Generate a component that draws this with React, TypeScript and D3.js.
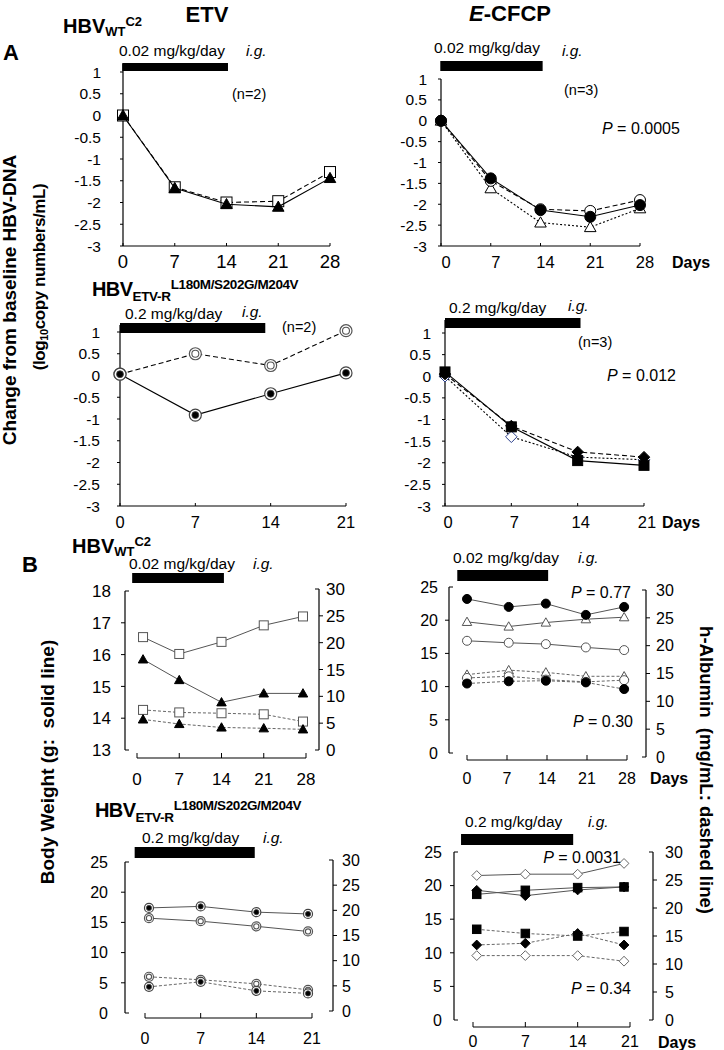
import React from 'react';
import * as d3 from 'd3';

// ---------------- DATA ----------------
const xTicks28 = [0, 7, 14, 21, 28];
const xTicks21 = [0, 7, 14, 21];
const yTicksA = [1, 0.5, 0, -0.5, -1, -1.5, -2, -2.5, -3];
const yTicksBW1 = [13, 14, 15, 16, 17, 18];
const yTicksBW = [0, 5, 10, 15, 20, 25];
const yTicksAlb = [0, 5, 10, 15, 20, 25, 30];

// Panel A, HBV WT C2
const daysAwt = [0, 7, 14, 21, 28];
const etvWtSquare = [0, -1.65, -2.0, -1.97, -1.3];
const etvWtTriangle = [0, -1.67, -2.04, -2.1, -1.44];
const cfcpWtFilledCircle = [0, -1.38, -2.14, -2.3, -2.02];
const cfcpWtOpenCircle = [0, -1.44, -2.12, -2.16, -1.9];
const cfcpWtOpenTriangle = [0, -1.62, -2.44, -2.55, -2.1];

// Panel A, HBV ETV-R
const daysAr = [0, 7, 14, 21];
const etvRFilled = [0.03, -0.91, -0.42, 0.06];
const etvROpen = [0.03, 0.5, 0.23, 1.03];
const cfcpRSquare = [0.1, -1.17, -1.95, -2.06];
const cfcpRFilledDiamond = [0.05, -1.15, -1.75, -1.87];
const cfcpROpenDiamond = [0, -1.4, -1.87, -1.93];

// Panel B, HBV WT C2 (body weight g / h-albumin mg/mL)
const daysBwtEtv = [1, 7, 14, 21, 27.5];
const bwEtvWtSquare = [16.55, 16.02, 16.4, 16.92, 17.2];
const bwEtvWtTriangle = [15.85, 15.2, 14.5, 14.78, 14.78];
const albEtvWtSquare = [7.47, 7.0, 6.85, 6.65, 5.3];
const albEtvWtTriangle = [5.7, 4.85, 4.2, 4.05, 3.85];

const daysBwtCfcp = [0, 7.3, 13.8, 20.8, 27.5];
const bwCfcpWtFilledCircle = [23.2, 22.0, 22.5, 20.8, 22.0];
const bwCfcpWtOpenTriangle = [19.75, 19.05, 19.65, 20.15, 20.45];
const bwCfcpWtOpenCircle = [16.9, 16.6, 16.4, 15.9, 15.5];
const albCfcpWtOpenTriangle = [14.8, 15.6, 15.2, 14.5, 14.5];
const albCfcpWtOpenCircle = [14.2, 14.5, 13.9, 13.5, 13.8];
const albCfcpWtFilledCircle = [13.2, 13.6, 13.7, 13.4, 12.2];

// Panel B, HBV ETV-R
const daysBrEtv = [0.5, 7, 14, 20.5];
const bwEtvRFilled = [17.4, 17.65, 16.7, 16.4];
const bwEtvROpen = [15.7, 15.2, 14.35, 13.5];
const albEtvROpen = [6.8, 6.2, 5.4, 4.2];
const albEtvRFilled = [4.8, 5.8, 4.0, 3.5];

const daysBrCfcp = [0.5, 7, 14, 20.2];
const bwCfcpROpenDiamond = [21.5, 21.7, 21.7, 23.3];
const bwCfcpRSquare = [18.7, 19.3, 19.7, 19.8];
const bwCfcpRFilledDiamond = [19.3, 18.5, 19.35, 19.8];
const albCfcpRSquare = [16.2, 15.45, 15.0, 15.8];
const albCfcpRFilledDiamond = [13.4, 13.7, 15.45, 13.4];
const albCfcpROpenDiamond = [11.5, 11.5, 11.5, 10.5];

// treatment periods (days)
const treatA1 = [-0.1, 14.2];
const treatA2 = [-0.1, 14.3];
const treatA3 = [0, 13.5];
const treatA4 = [0, 14.3];
const treatB1 = [-0.8, 14.4];
const treatB2 = [-1.7, 14.2];
const treatB3 = [-1.3, 13.8];
const treatB4 = [-1.6, 13.4];

// ---------------- DRAWING ----------------
const FONT = "'Liberation Sans', Arial, Helvetica, sans-serif";

type Series = {
  days: number[];
  values: number[];
  marker: string;
  line: 'solid' | 'dashed' | 'dotted' | 'bsolid' | 'bdash';
  axis?: 'left' | 'right';
  color?: string;
};

function Marker({ k, x, y, s, c = '#000' }: { k: string; x: number; y: number; s: number; c?: string }) {
  const h = s / 2;
  switch (k) {
    case 'sqO':
      return <rect x={x - h} y={y - h} width={s} height={s} fill="#fff" stroke={c} strokeWidth={1} />;
    case 'sqF':
      return <rect x={x - h} y={y - h} width={s} height={s} fill={c} stroke={c} strokeWidth={1} />;
    case 'triF':
    case 'triO': {
      const d = `M${x},${y - h * 1.05}L${x + h * 1.05},${y + h * 0.8}L${x - h * 1.05},${y + h * 0.8}Z`;
      return <path d={d} fill={k === 'triF' ? c : '#fff'} stroke={c} strokeWidth={1} />;
    }
    case 'cirF':
      return <circle cx={x} cy={y} r={h} fill={c} stroke={c} strokeWidth={1} />;
    case 'cirO':
      return <circle cx={x} cy={y} r={h} fill="#fff" stroke={c} strokeWidth={1} />;
    case 'dcF':
      return (
        <g>
          <circle cx={x} cy={y} r={h} fill="#fff" stroke="#444" strokeWidth={1.2} />
          <circle cx={x} cy={y} r={h * 0.58} fill="#000" stroke="#444" strokeWidth={0.8} />
        </g>
      );
    case 'dcO':
      return (
        <g>
          <circle cx={x} cy={y} r={h} fill="#fff" stroke="#555" strokeWidth={1.2} />
          <circle cx={x} cy={y} r={h * 0.58} fill="#fff" stroke="#555" strokeWidth={1.1} />
        </g>
      );
    case 'diaF':
    case 'diaO': {
      const r = h * 1.15;
      const d = `M${x},${y - r}L${x + r},${y}L${x},${y + r}L${x - r},${y}Z`;
      return <path d={d} fill={k === 'diaF' ? c : '#fff'} stroke={c} strokeWidth={1} />;
    }
    default:
      return null;
  }
}

const lineStyle: Record<string, { stroke: string; dash?: string; w: number }> = {
  solid: { stroke: '#000', w: 1.1 },
  dashed: { stroke: '#000', dash: '5,3', w: 1.1 },
  dotted: { stroke: '#000', dash: '2,2', w: 1.1 },
  bsolid: { stroke: '#555', w: 1 },
  bdash: { stroke: '#666', dash: '3,2', w: 1 },
};

function SeriesView({ s, x, y, size }: { s: Series; x: any; y: any; size: number }) {
  const pts: [number, number][] = s.days.map((d, i) => [x(d), y(s.values[i])]);
  const st = lineStyle[s.line];
  const path = d3.line()(pts) || '';
  return (
    <g>
      <path d={path} fill="none" stroke={st.stroke} strokeWidth={st.w} strokeDasharray={st.dash} />
      {pts.map((p, i) => (
        <Marker key={i} k={s.marker} x={p[0]} y={p[1]} s={size} c={s.color || '#000'} />
      ))}
    </g>
  );
}

type PanelACfg = {
  x: any;
  y: any;
  xTicks: number[];
  axisTop: number;
  yLabelX: number;
  xLabelY: number;
  xLabelSize: number;
  xLabelDx: number;
  bar: number[];
  barY: number;
  barH: number;
  series: Series[];
  size: number;
};

function PanelA({ p }: { p: PanelACfg }) {
  const { x, y, xTicks } = p;
  const yb = y(-3);
  const x0 = x(0);
  return (
    <g>
      <line x1={x0} x2={x0} y1={p.axisTop} y2={yb} stroke="#000" strokeWidth={1.2} />
      <line x1={x0} x2={x(xTicks[xTicks.length - 1])} y1={yb} y2={yb} stroke="#000" strokeWidth={1.2} />
      {yTicksA.map((t) => (
        <g key={t}>
          <line x1={x0 - 3} x2={x0} y1={y(t)} y2={y(t)} stroke="#000" strokeWidth={1} />
          <text x={p.yLabelX} y={y(t) + 5.5} textAnchor="end" fontSize={15.5}>
            {String(t)}
          </text>
        </g>
      ))}
      {xTicks.map((t) => (
        <g key={t}>
          <line x1={x(t)} x2={x(t)} y1={yb} y2={yb - 3} stroke="#000" strokeWidth={1} />
          <text x={x(t) + p.xLabelDx} y={p.xLabelY} textAnchor="middle" fontSize={p.xLabelSize}>
            {t}
          </text>
        </g>
      ))}
      {p.series.map((s, i) => (
        <SeriesView key={i} s={s} x={x} y={y} size={p.size} />
      ))}
      <rect x={x(p.bar[0])} y={p.barY} width={x(p.bar[1]) - x(p.bar[0])} height={p.barH} fill="#000" />
    </g>
  );
}

type PanelBCfg = {
  x: any;
  yL: any;
  yR: any;
  lx: number;
  rx: number;
  xAxisY: number;
  lTicks: number[];
  lLabelX: number;
  rLabelX: number;
  xLabelY: number;
  fs: number;
  xTicks: number[];
  bar: number[];
  barY: number;
  barH: number;
  series: Series[];
  size: number;
};

function PanelB({ p }: { p: PanelBCfg }) {
  const { x, yL, yR, lx, rx, lTicks, xTicks } = p;
  const lN = lTicks.length;
  const rN = yTicksAlb.length;
  return (
    <g>
      <line x1={lx} x2={lx} y1={yL(lTicks[lN - 1])} y2={yL(lTicks[0])} stroke="#000" strokeWidth={1.2} />
      {lTicks.map((t, i) => {
        const end = i === 0 || i === lN - 1;
        return (
          <g key={t}>
            <line x1={end ? lx : lx - 4} x2={end ? lx + 4 : lx} y1={yL(t)} y2={yL(t)} stroke="#000" strokeWidth={1} />
            <text x={p.lLabelX} y={yL(t) + p.fs * 0.36} textAnchor="end" fontSize={p.fs}>
              {t}
            </text>
          </g>
        );
      })}
      <line x1={rx} x2={rx} y1={yR(30)} y2={yR(0)} stroke="#000" strokeWidth={1.2} />
      {yTicksAlb.map((t, i) => {
        const end = i === 0 || i === rN - 1;
        return (
          <g key={t}>
            <line x1={end ? rx - 4 : rx} x2={end ? rx : rx + 4} y1={yR(t)} y2={yR(t)} stroke="#000" strokeWidth={1} />
            <text x={p.rLabelX} y={yR(t) + p.fs * 0.36} textAnchor="start" fontSize={p.fs}>
              {t}
            </text>
          </g>
        );
      })}
      <line x1={x(xTicks[0])} x2={x(xTicks[xTicks.length - 1])} y1={p.xAxisY} y2={p.xAxisY} stroke="#000" strokeWidth={1.2} />
      {xTicks.map((t) => (
        <g key={t}>
          <line x1={x(t)} x2={x(t)} y1={p.xAxisY - 5} y2={p.xAxisY} stroke="#000" strokeWidth={1} />
          <text x={x(t)} y={p.xLabelY} textAnchor="middle" fontSize={p.fs}>
            {t}
          </text>
        </g>
      ))}
      {p.series.map((s, i) => (
        <SeriesView key={i} s={s} x={x} y={s.axis === 'right' ? yR : yL} size={p.size} />
      ))}
      <rect x={x(p.bar[0])} y={p.barY} width={x(p.bar[1]) - x(p.bar[0])} height={p.barH} fill="#000" />
    </g>
  );
}

// ---------------- PANELS ----------------
const A1: PanelACfg = {
  x: d3.scaleLinear().domain([0, 28]).range([123, 330]),
  y: d3.scaleLinear().domain([-3, 1]).range([246, 72]),
  xTicks: xTicks28, axisTop: 64, yLabelX: 101, xLabelY: 268, xLabelSize: 18.5, xLabelDx: 0,
  bar: treatA1, barY: 63, barH: 8, size: 11,
  series: [
    { days: daysAwt, values: etvWtSquare, marker: 'sqO', line: 'dashed' },
    { days: daysAwt, values: etvWtTriangle, marker: 'triF', line: 'solid' },
  ],
};

const A2: PanelACfg = {
  x: d3.scaleLinear().domain([0, 28]).range([441, 640]),
  y: d3.scaleLinear().domain([-3, 1]).range([246, 79]),
  xTicks: xTicks28, axisTop: 79, yLabelX: 427, xLabelY: 268, xLabelSize: 16.5, xLabelDx: 5,
  bar: treatA2, barY: 61, barH: 10, size: 11,
  series: [
    { days: daysAwt, values: cfcpWtOpenTriangle, marker: 'triO', line: 'dotted' },
    { days: daysAwt, values: cfcpWtOpenCircle, marker: 'cirO', line: 'dashed' },
    { days: daysAwt, values: cfcpWtFilledCircle, marker: 'cirF', line: 'solid' },
  ],
};

const A3: PanelACfg = {
  x: d3.scaleLinear().domain([0, 21]).range([120, 346]),
  y: d3.scaleLinear().domain([-3, 1]).range([506, 332]),
  xTicks: xTicks21, axisTop: 325, yLabelX: 100, xLabelY: 528, xLabelSize: 16.5, xLabelDx: 0,
  bar: treatA3, barY: 323, barH: 10, size: 12,
  series: [
    { days: daysAr, values: etvROpen, marker: 'dcO', line: 'dashed' },
    { days: daysAr, values: etvRFilled, marker: 'dcF', line: 'solid' },
  ],
};

const A4: PanelACfg = {
  x: d3.scaleLinear().domain([0, 21]).range([445, 644]),
  y: d3.scaleLinear().domain([-3, 1]).range([506, 333]),
  xTicks: xTicks21, axisTop: 320, yLabelX: 431, xLabelY: 528, xLabelSize: 16.5, xLabelDx: 3,
  bar: treatA4, barY: 318, barH: 10, size: 10,
  series: [
    { days: daysAr, values: cfcpROpenDiamond, marker: 'diaO', line: 'dotted', color: '#2b3f8c' },
    { days: daysAr, values: cfcpRFilledDiamond, marker: 'diaF', line: 'dashed' },
    { days: daysAr, values: cfcpRSquare, marker: 'sqF', line: 'solid' },
  ],
};

const B1: PanelBCfg = {
  x: d3.scaleLinear().domain([0, 28]).range([137, 306]),
  yL: d3.scaleLinear().domain([13, 18]).range([750, 591]),
  yR: d3.scaleLinear().domain([0, 30]).range([750, 589]),
  lx: 125, rx: 319, xAxisY: 758, lTicks: yTicksBW1, lLabelX: 111, rLabelX: 326, xLabelY: 785, fs: 17,
  xTicks: xTicks28, bar: treatB1, barY: 573, barH: 10, size: 9,
  series: [
    { days: daysBwtEtv, values: albEtvWtSquare, marker: 'sqO', line: 'bdash', axis: 'right', color: '#555' },
    { days: daysBwtEtv, values: albEtvWtTriangle, marker: 'triF', line: 'bdash', axis: 'right' },
    { days: daysBwtEtv, values: bwEtvWtSquare, marker: 'sqO', line: 'bsolid', color: '#555' },
    { days: daysBwtEtv, values: bwEtvWtTriangle, marker: 'triF', line: 'bsolid' },
  ],
};

const B2: PanelBCfg = {
  x: d3.scaleLinear().domain([0, 28]).range([467, 627]),
  yL: d3.scaleLinear().domain([0, 25]).range([753, 587]),
  yR: d3.scaleLinear().domain([0, 30]).range([757, 590]),
  lx: 449, rx: 646, xAxisY: 760, lTicks: yTicksBW, lLabelX: 438, rLabelX: 656, xLabelY: 784, fs: 16,
  xTicks: xTicks28, bar: treatB2, barY: 570, barH: 11, size: 9,
  series: [
    { days: daysBwtCfcp, values: albCfcpWtOpenTriangle, marker: 'triO', line: 'bdash', axis: 'right', color: '#555' },
    { days: daysBwtCfcp, values: albCfcpWtOpenCircle, marker: 'cirO', line: 'bdash', axis: 'right', color: '#555' },
    { days: daysBwtCfcp, values: albCfcpWtFilledCircle, marker: 'cirF', line: 'bdash', axis: 'right' },
    { days: daysBwtCfcp, values: bwCfcpWtOpenCircle, marker: 'cirO', line: 'bsolid', color: '#555' },
    { days: daysBwtCfcp, values: bwCfcpWtOpenTriangle, marker: 'triO', line: 'bsolid', color: '#555' },
    { days: daysBwtCfcp, values: bwCfcpWtFilledCircle, marker: 'cirF', line: 'bsolid' },
  ],
};

const B3: PanelBCfg = {
  x: d3.scaleLinear().domain([0, 21]).range([145, 312]),
  yL: d3.scaleLinear().domain([0, 25]).range([1013, 862]),
  yR: d3.scaleLinear().domain([0, 30]).range([1011, 860]),
  lx: 125, rx: 333, xAxisY: 1018, lTicks: yTicksBW, lLabelX: 108, rLabelX: 342, xLabelY: 1044, fs: 16,
  xTicks: xTicks21, bar: treatB3, barY: 847, barH: 11, size: 9,
  series: [
    { days: daysBrEtv, values: albEtvROpen, marker: 'dcO', line: 'bdash', axis: 'right' },
    { days: daysBrEtv, values: albEtvRFilled, marker: 'dcF', line: 'bdash', axis: 'right' },
    { days: daysBrEtv, values: bwEtvROpen, marker: 'dcO', line: 'bsolid' },
    { days: daysBrEtv, values: bwEtvRFilled, marker: 'dcF', line: 'bsolid' },
  ],
};

const B4: PanelBCfg = {
  x: d3.scaleLinear().domain([0, 21]).range([473, 630]),
  yL: d3.scaleLinear().domain([0, 25]).range([1020, 852]),
  yR: d3.scaleLinear().domain([0, 30]).range([1020, 852]),
  lx: 454, rx: 653, xAxisY: 1027, lTicks: yTicksBW, lLabelX: 442, rLabelX: 665, xLabelY: 1047, fs: 16,
  xTicks: xTicks21, bar: treatB4, barY: 834, barH: 11, size: 8.5,
  series: [
    { days: daysBrCfcp, values: albCfcpROpenDiamond, marker: 'diaO', line: 'bdash', axis: 'right', color: '#666' },
    { days: daysBrCfcp, values: albCfcpRFilledDiamond, marker: 'diaF', line: 'bdash', axis: 'right' },
    { days: daysBrCfcp, values: albCfcpRSquare, marker: 'sqF', line: 'bdash', axis: 'right' },
    { days: daysBrCfcp, values: bwCfcpROpenDiamond, marker: 'diaO', line: 'bsolid', color: '#666' },
    { days: daysBrCfcp, values: bwCfcpRSquare, marker: 'sqF', line: 'bsolid' },
    { days: daysBrCfcp, values: bwCfcpRFilledDiamond, marker: 'diaF', line: 'bsolid' },
  ],
};

function Dose({ x, y, dose, igx, igy }: { x: number; y: number; dose: string; igx: number; igy?: number }) {
  return (
    <g fontSize={15.5}>
      <text x={x} y={y}>{dose}</text>
      <text x={igx} y={igy ?? y} fontStyle="italic">i.g.</text>
    </g>
  );
}

function PText({ x, y, v, anchor = 'start' }: { x: number; y: number; v: string; anchor?: string }) {
  return (
    <text x={x} y={y} fontSize={16} textAnchor={anchor as any}>
      <tspan fontStyle="italic">P</tspan> = {v}
    </text>
  );
}

function TitleWT({ x, y, size = 20 }: { x: number; y: number; size?: number }) {
  return (
    <text x={x} y={y} fontSize={size} fontWeight="bold">
      HBV<tspan fontSize={13} dy={3}>WT</tspan>
      <tspan fontSize={13} dy={-10}>C2</tspan>
    </text>
  );
}

function TitleR({ x, y }: { x: number; y: number }) {
  return (
    <text x={x} y={y} fontSize={20} fontWeight="bold" letterSpacing={-0.6}>
      HBV<tspan fontSize={13.5} dy={5} letterSpacing={-0.3}>ETV-R</tspan>
      <tspan fontSize={13.5} dy={-12} letterSpacing={-0.4}>L180M/S202G/M204V</tspan>
    </text>
  );
}

export default function App() {
  return (
    <svg
      width={724}
      height={1050}
      viewBox="0 0 724 1050"
      style={{ position: 'absolute', left: 0, top: 0, background: '#fff' }}
      fontFamily={FONT}
    >
      <rect width={724} height={1050} fill="#fff" />

      {/* headers */}
      <text x={207} y={22} fontSize={22} fontWeight="bold" textAnchor="middle">ETV</text>
      <text x={510} y={21} fontSize={22} fontWeight="bold" textAnchor="middle">
        <tspan fontStyle="italic">E</tspan>-CFCP
      </text>
      <text x={3} y={60} fontSize={22} fontWeight="bold">A</text>
      <text x={22} y={572} fontSize={22} fontWeight="bold">B</text>

      <TitleWT x={63} y={33} />
      <TitleR x={92} y={296} />
      <TitleWT x={72} y={553} />
      <TitleR x={95} y={817} />

      {/* y axis titles */}
      <text transform="translate(16,300) rotate(-90)" fontSize={19} fontWeight="bold" textAnchor="middle">
        Change from baseline HBV-DNA
      </text>
      <text transform="translate(45,277) rotate(-90)" fontSize={17} fontWeight="bold" textAnchor="middle" letterSpacing={-0.4}>
        (log<tspan fontSize={11} dy={3}>10</tspan><tspan dy={-3}>copy numbers/mL)</tspan>
      </text>
      <text transform="translate(54,762) rotate(-90)" fontSize={19} fontWeight="bold" textAnchor="middle" xmlSpace="preserve">
        Body Weight (g:  solid line)
      </text>
      <text transform="translate(700,770) rotate(90)" fontSize={18.5} fontWeight="bold" textAnchor="middle" xmlSpace="preserve">
        h-Albumin  (mg/mL: dashed line)
      </text>

      {/* dose annotations */}
      <Dose x={119} y={56} dose="0.02 mg/kg/day" igx={246} />
      <Dose x={434} y={53} dose="0.02 mg/kg/day" igx={562} igy={56} />
      <Dose x={125} y={319} dose="0.2 mg/kg/day" igx={242} igy={317} />
      <Dose x={449} y={313} dose="0.2 mg/kg/day" igx={568} igy={311} />
      <Dose x={129} y={569} dose="0.02 mg/kg/day" igx={253} />
      <Dose x={453} y={563} dose="0.02 mg/kg/day" igx={578} />
      <Dose x={142} y={843} dose="0.2 mg/kg/day" igx={263} />
      <Dose x={465} y={827} dose="0.2 mg/kg/day" igx={588} />

      <PanelA p={A1} />
      <PanelA p={A2} />
      <PanelA p={A3} />
      <PanelA p={A4} />
      <PanelB p={B1} />
      <PanelB p={B2} />
      <PanelB p={B3} />
      <PanelB p={B4} />

      {/* n and P annotations */}
      <text x={232} y={99} fontSize={14.5}>(n=2)</text>
      <text x={564} y={95} fontSize={14.5}>(n=3)</text>
      <text x={282} y={332} fontSize={14.5}>(n=2)</text>
      <text x={578} y={347} fontSize={14.5}>(n=3)</text>
      <PText x={602} y={134} v="0.0005" />
      <PText x={607} y={381} v="0.012" />
      <PText x={631} y={598} v="0.77" anchor="end" />
      <PText x={633} y={727} v="0.30" anchor="end" />
      <PText x={621} y={863} v="0.0031" anchor="end" />
      <PText x={631} y={994} v="0.34" anchor="end" />

      {/* Days labels */}
      <text x={672} y={268} fontSize={16} fontWeight="bold">Days</text>
      <text x={662} y={528} fontSize={16} fontWeight="bold">Days</text>
      <text x={650} y={784} fontSize={16} fontWeight="bold">Days</text>
      <text x={658} y={1048} fontSize={16} fontWeight="bold">Days</text>
    </svg>
  );
}
